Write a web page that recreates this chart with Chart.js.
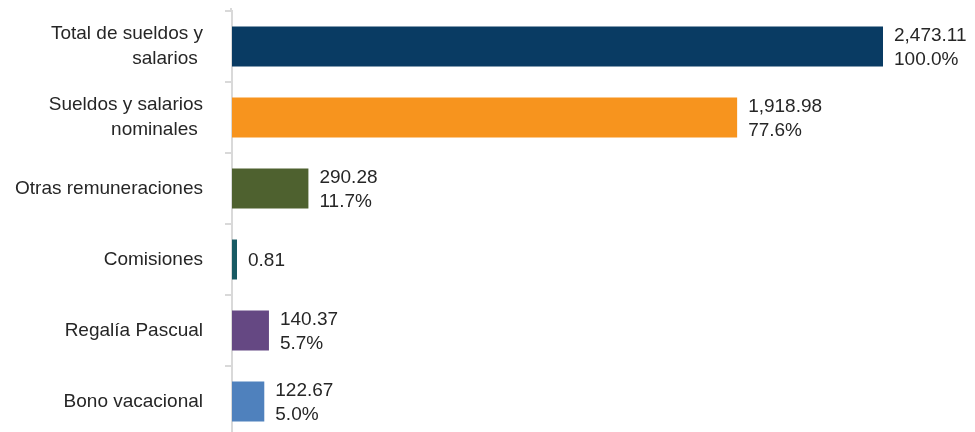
<!DOCTYPE html>
<html>
<head>
<meta charset="utf-8">
<script src="https://cdn.jsdelivr.net/npm/chart.js@4/dist/chart.umd.min.js"></script>
<style>
  html, body { margin: 0; padding: 0; background: #ffffff; overflow: hidden; }
  #wrap { width: 975px; height: 437px; position: relative; }
</style>
</head>
<body>
<div id="wrap"><canvas id="c"></canvas></div>
<script>
const categories = [
  ["Total de sueldos y", "salarios "],
  ["Sueldos y salarios", "nominales "],
  "Otras remuneraciones",
  "Comisiones",
  "Regalía Pascual",
  "Bono vacacional"
];
const values = [2473.11, 1918.98, 290.28, 0.81, 140.37, 122.67];
const valueLabels = ["2,473.11", "1,918.98", "290.28", "0.81", "140.37", "122.67"];
const percentLabels = ["100.0%", "77.6%", "11.7%", null, "5.7%", "5.0%"];
const barColors = ["#093b63", "#f7941e", "#4e612f", "#185a63", "#654883", "#4f81bd"];

const FONT = "'Liberation Sans', Arial, sans-serif";
const TEXT = "#262626";

const labelPlugin = {
  id: 'barLabels',
  afterDatasetsDraw(chart) {
    const ctx = chart.ctx;
    const meta = chart.getDatasetMeta(0);
    ctx.save();
    ctx.font = "19px " + FONT;
    ctx.fillStyle = TEXT;
    ctx.textAlign = 'left';
    ctx.textBaseline = 'middle';
    meta.data.forEach((bar, i) => {
      const x = bar.x + 11;
      const lines = [valueLabels[i]];
      if (percentLabels[i]) lines.push(percentLabels[i]);
      const lh = 24;
      const y0 = bar.y + 1 - (lines.length - 1) * lh / 2;
      lines.forEach((t, k) => ctx.fillText(t, x, y0 + k * lh));
    });
    ctx.restore();
  }
};

const axisTopPlugin = {
  id: 'axisTop',
  beforeDatasetsDraw(chart) {
    const ctx = chart.ctx;
    const a = chart.chartArea;
    ctx.save();
    ctx.strokeStyle = '#d9d9d9';
    ctx.lineWidth = 2;
    ctx.beginPath();
    ctx.moveTo(a.left - 1, a.top - 3);
    ctx.lineTo(a.left - 1, a.top + 1);
    ctx.stroke();
    ctx.restore();
  }
};

new Chart(document.getElementById('c'), {
  type: 'bar',
  data: {
    labels: categories,
    datasets: [{
      data: values,
      backgroundColor: barColors,
      borderWidth: 0,
      categoryPercentage: 1.0,
      barPercentage: 0.563,
      minBarLength: 5
    }]
  },
  options: {
    indexAxis: 'y',
    responsive: true,
    maintainAspectRatio: false,
    animation: false,
    layout: { padding: { top: 11, right: 92, bottom: 0, left: 0 } },
    plugins: { legend: { display: false }, tooltip: { enabled: false } },
    scales: {
      x: {
        display: false,
        min: 0,
        max: values[0]
      },
      y: {
        type: 'category',
        offset: true,
        afterFit(scale) {
          scale.width = 232;
          scale.paddingTop = 0;
          scale.paddingBottom = 0;
        },
        grid: {
          offset: true,
          drawOnChartArea: false,
          drawTicks: true,
          tickLength: 7,
          color: '#d9d9d9',
          lineWidth: 2
        },
        border: { display: true, color: '#d9d9d9', width: 2 },
        ticks: {
          color: TEXT,
          padding: 22,
          font: { family: FONT, size: 19, lineHeight: 1.3 }
        }
      }
    }
  },
  plugins: [labelPlugin, axisTopPlugin]
});
</script>
</body>
</html>
